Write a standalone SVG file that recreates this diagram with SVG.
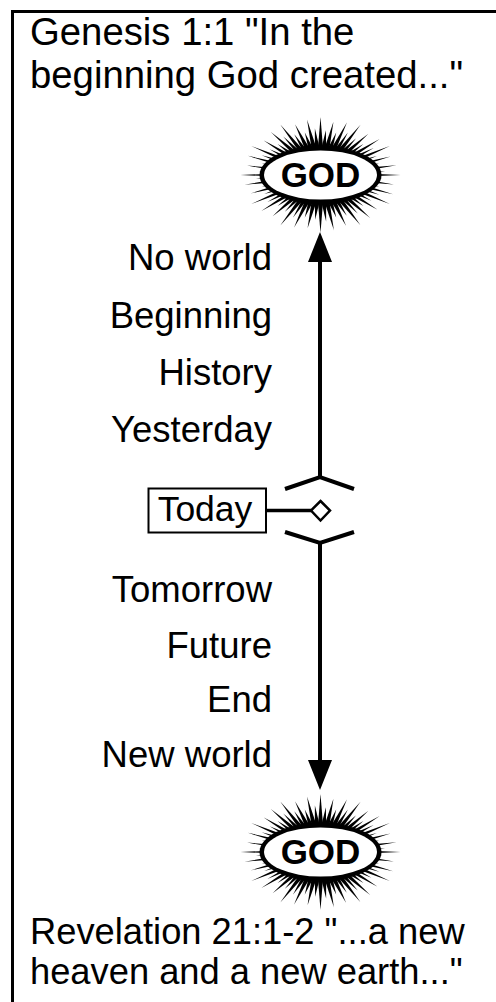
<svg xmlns="http://www.w3.org/2000/svg" xmlns:xlink="http://www.w3.org/1999/xlink" width="496" height="1002" viewBox="0 0 496 1002">
<style>
.t{font-family:"Liberation Sans",Arial,sans-serif;fill:#000}
.lbl{font-size:36.5px;text-anchor:end}
.ln{stroke:#000;stroke-width:4;fill:none}
.god{font-family:"Liberation Sans",Arial,sans-serif;font-weight:bold;font-size:35px;text-anchor:middle}
</style>
<defs>
<marker id="ah" markerUnits="userSpaceOnUse" viewBox="0 0 30 24" markerWidth="30" markerHeight="24" refX="2" refY="12" orient="auto">
<path d="M0,0 L30,12 L0,24 Z" fill="#000"/>
</marker>
<g id="sext">
<path d="M-2,-24 L0,-58 L2,-24 Z"/>
<path d="M-2,-24 L0,-45 L2,-24 Z" transform="rotate(5)"/>
<path d="M-2,-24 L0,-54 L2,-24 Z" transform="rotate(10)"/>
<path d="M-2,-24 L0,-44 L2,-24 Z" transform="rotate(15)"/>
<path d="M-2,-24 L0,-56 L2,-24 Z" transform="rotate(20)"/>
<path d="M-2,-24 L0,-47 L2,-24 Z" transform="rotate(25)"/>
</g>
<g id="burst">
<g transform="scale(1.38,1)">
<use xlink:href="#sext"/>
<use xlink:href="#sext" transform="rotate(30)"/>
<use xlink:href="#sext" transform="rotate(60)"/>
<use xlink:href="#sext" transform="rotate(90)"/>
<use xlink:href="#sext" transform="rotate(120)"/>
<use xlink:href="#sext" transform="rotate(150)"/>
<use xlink:href="#sext" transform="rotate(180)"/>
<use xlink:href="#sext" transform="rotate(210)"/>
<use xlink:href="#sext" transform="rotate(240)"/>
<use xlink:href="#sext" transform="rotate(270)"/>
<use xlink:href="#sext" transform="rotate(300)"/>
<use xlink:href="#sext" transform="rotate(330)"/>
</g>
<ellipse cx="0" cy="0" rx="61" ry="29" fill="#000"/>
<ellipse cx="0" cy="0" rx="56.5" ry="24.5" fill="#fff"/>
</g>
</defs>
<rect x="0" y="0" width="496" height="1002" fill="#fff"/>
<rect id="frame" x="12.5" y="11.5" width="520" height="1020" fill="none" stroke="#000" stroke-width="3"/>
<g id="header">
<text class="t" x="30" y="45" font-size="38.3">Genesis 1:1 "In the</text>
<text class="t" x="30" y="88" font-size="38.3">beginning God created..."</text>
</g>
<g id="god-top">
<use xlink:href="#burst" transform="translate(320.5,175)"/>
<text class="god" x="320.5" y="187">GOD</text>
</g>
<g id="labels-past">
<text class="t lbl" x="272" y="270">No world</text>
<text class="t lbl" x="272" y="328">Beginning</text>
<text class="t lbl" x="272" y="385">History</text>
<text class="t lbl" x="272" y="442">Yesterday</text>
</g>
<g id="today">
<rect x="148.5" y="488.5" width="117.5" height="44" fill="#fff" stroke="#000" stroke-width="2"/>
<text class="t" x="205" y="521" font-size="35.5" text-anchor="middle">Today</text>
</g>
<g id="connectors">
<path class="ln" d="M320,477 L320,260" marker-end="url(#ah)"/>
<path class="ln" d="M285,489 L320,477 L354,489"/>
<path class="ln" d="M285,532 L320,543 L354,532"/>
<path class="ln" d="M320,543 L320,762" marker-end="url(#ah)"/>
<path d="M266,510.5 L311,510.5" stroke="#000" stroke-width="3.5"/>
<path d="M320.5,501 L330,510.5 L320.5,520.5 L311,510.5 Z" fill="#fff" stroke="#000" stroke-width="2.5"/>
</g>
<g id="labels-future">
<text class="t lbl" x="272" y="602">Tomorrow</text>
<text class="t lbl" x="272" y="658">Future</text>
<text class="t lbl" x="272" y="712">End</text>
<text class="t lbl" x="272" y="767">New world</text>
</g>
<g id="god-bottom">
<use xlink:href="#burst" transform="translate(320.5,852)"/>
<text class="god" x="320.5" y="864">GOD</text>
</g>
<g id="footer">
<text class="t" x="30" y="944" font-size="36.3">Revelation 21:1-2 "...a new</text>
<text class="t" x="30" y="984" font-size="36.3">heaven and a new earth..."</text>
</g>
</svg>
